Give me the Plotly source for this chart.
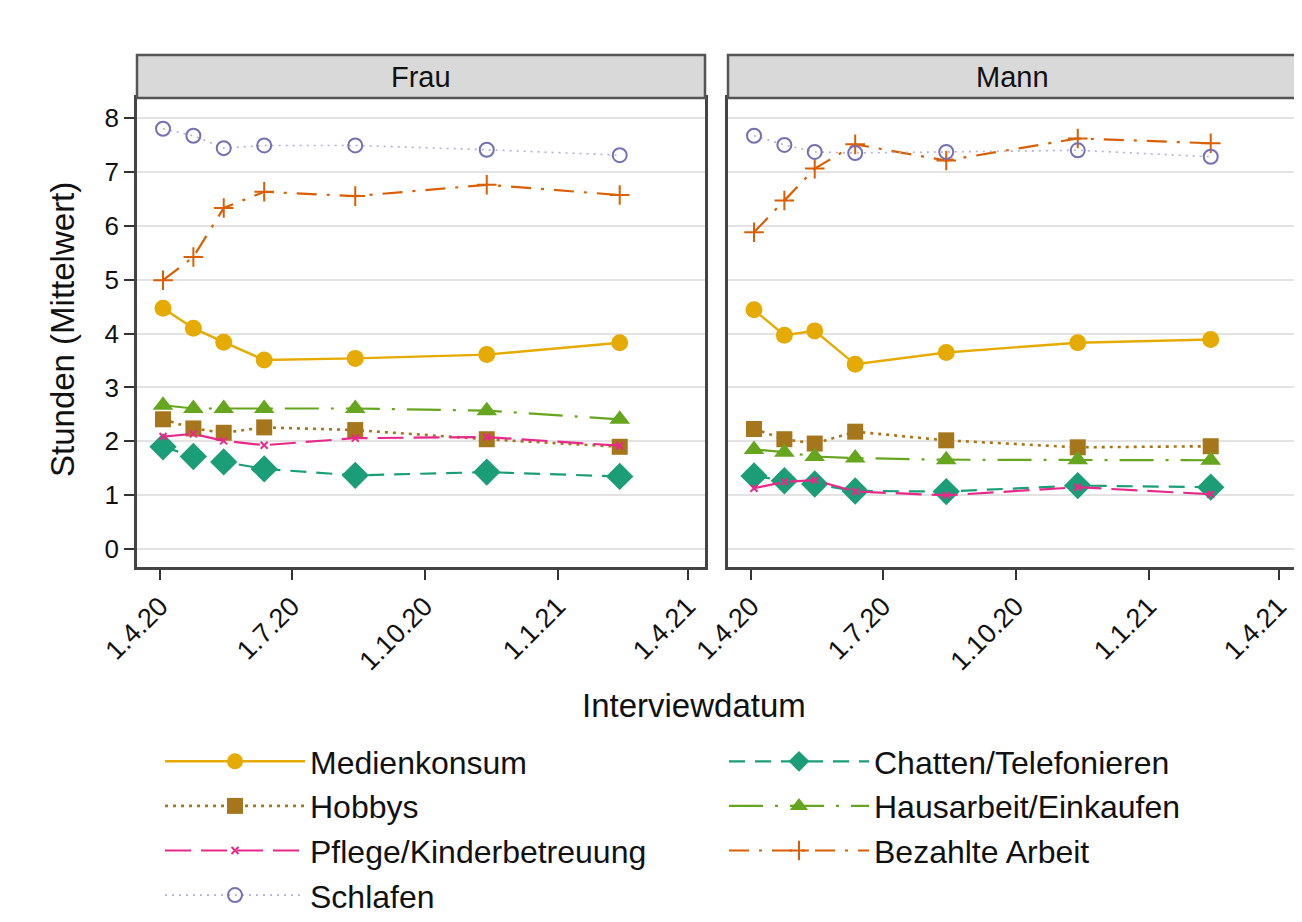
import plotly.graph_objects as go
from plotly.subplots import make_subplots

dates = ["2020-04-03", "2020-04-24", "2020-05-15", "2020-06-12",
         "2020-08-14", "2020-11-13", "2021-02-13"]
panels = ["Frau", "Mann"]

series_names = ["Medienkonsum", "Chatten/Telefonieren", "Hobbys",
                "Hausarbeit/Einkaufen", "Pflege/Kinderbetreuung",
                "Bezahlte Arbeit", "Schlafen"]

# Frau
medien_f = [4.47, 4.10, 3.84, 3.51, 3.54, 3.61, 3.83]
chatten_f = [1.90, 1.72, 1.62, 1.49, 1.37, 1.43, 1.35]
hobbys_f = [2.41, 2.24, 2.16, 2.26, 2.21, 2.04, 1.90]
haus_f = [2.67, 2.61, 2.61, 2.61, 2.61, 2.57, 2.41]
pflege_f = [2.09, 2.14, 2.01, 1.93, 2.06, 2.08, 1.92]
bezahlt_f = [4.99, 5.42, 6.33, 6.63, 6.55, 6.76, 6.57]
schlafen_f = [7.80, 7.67, 7.44, 7.49, 7.49, 7.41, 7.31]

# Mann
medien_m = [4.44, 3.97, 4.05, 3.43, 3.65, 3.83, 3.89]
chatten_m = [1.36, 1.27, 1.21, 1.08, 1.07, 1.18, 1.15]
hobbys_m = [2.23, 2.04, 1.96, 2.18, 2.02, 1.89, 1.91]
haus_m = [1.85, 1.80, 1.72, 1.69, 1.66, 1.66, 1.65]
pflege_m = [1.13, 1.25, 1.28, 1.07, 1.00, 1.15, 1.02]
bezahlt_m = [5.88, 6.47, 7.06, 7.51, 7.21, 7.62, 7.53]
schlafen_m = [7.67, 7.50, 7.37, 7.35, 7.37, 7.40, 7.28]

frau = [medien_f, chatten_f, hobbys_f, haus_f, pflege_f, bezahlt_f, schlafen_f]
mann = [medien_m, chatten_m, hobbys_m, haus_m, pflege_m, bezahlt_m, schlafen_m]

x_tickvals = ["2020-04-01", "2020-07-01", "2020-10-01", "2021-01-01", "2021-04-01"]
x_ticktext = ["1.4.20", "1.7.20", "1.10.20", "1.1.21", "1.4.21"]
y_ticks = [0, 1, 2, 3, 4, 5, 6, 7, 8]

styles = [
    dict(color="#E6AB02", dash="solid", lw=2.4, sym="circle", size=17, mline=0, lcolor="#E6AB02"),
    dict(color="#1B9E77", dash="16px,10px", lw=2.2, sym="diamond", size=21, mline=0, lcolor="#1B9E77"),
    dict(color="#A6761D", dash="3px,5px", lw=2.6, sym="square", size=16, mline=0, lcolor="#A6761D"),
    dict(color="#66A61E", dash="34px,12px,3px,12px", lw=2.2, sym="triangle-up", size=18, mline=0, lcolor="#66A61E"),
    dict(color="#E7298A", dash="26px,10px", lw=2.2, sym="x-thin-open", size=7, mline=2, lcolor="#E7298A"),
    dict(color="#D95F02", dash="20px,10px,3px,10px", lw=2.2, sym="cross-thin-open", size=14, mline=2, lcolor="#D95F02"),
    dict(color="#7570B3", dash="2px,5px", lw=1.6, sym="circle-open", size=14, mline=2, lcolor="#B3AFD8"),
]

fig = make_subplots(rows=1, cols=2, shared_yaxes=True, horizontal_spacing=0.02)

for ci, data in enumerate([frau, mann]):
    for si, (name, vals) in enumerate(zip(series_names, data)):
        st = styles[si]
        fig.add_trace(go.Scatter(
            x=dates, y=vals, name=name, mode="lines+markers",
            showlegend=(ci == 0),
            line=dict(color=st["lcolor"], width=st["lw"], dash=st["dash"]),
            marker=dict(symbol=st["sym"], size=st["size"], color=st["color"],
                        line=dict(width=st["mline"], color=st["color"])),
        ), row=1, col=ci + 1)

# the page body has an 8px margin: work in screen pixels, shift by OFF
OFF = 8
W, H = 1302 - OFF, 922 - OFF
ml = 137 - OFF
mt = 55 - OFF
plot_bottom = 567 - OFF
mb = H - plot_bottom
mr = W - (1296 - OFF)
ph = plot_bottom - mt
pw = W - ml - mr
ydom_top = (plot_bottom - (98 - OFF)) / ph
d1 = [0, (705 - 137) / pw]
d2 = [(728 - 137) / pw, 1]


def px_x(sx):
    return (sx - 137) / pw


def px_y(sy):
    return (567 - sy) / ph


FONT = "Liberation Sans, Arial, Helvetica, sans-serif"
xfont = dict(family=FONT, size=27, color="#111")
yfont = dict(family=FONT, size=26, color="#111")
for i, dom in enumerate([d1, d2]):
    fig.update_xaxes(domain=dom, range=["2020-03-16", "2021-04-13"],
                     tickvals=x_tickvals, ticktext=x_ticktext, tickangle=-45,
                     ticks="outside", ticklen=10, tickwidth=1.5, tickcolor="#333",
                     showline=True, linecolor="#444", linewidth=2.5, mirror=True,
                     showgrid=False, zeroline=False, tickfont=xfont,
                     automargin=False, row=1, col=i + 1)
    fig.update_yaxes(domain=[0, ydom_top], range=[-0.33, 8.37], tickvals=y_ticks,
                     showline=True, linecolor="#444", linewidth=2.5, mirror=True,
                     showgrid=True, gridcolor="#E3E3E3", gridwidth=2, zeroline=False,
                     tickfont=yfont, automargin=False, row=1, col=i + 1)
fig.update_yaxes(ticks="outside", ticklen=10, tickwidth=1.5, tickcolor="#333", row=1, col=1)
fig.update_yaxes(ticks="", showticklabels=False, row=1, col=2)

shapes = []
annotations = []
for dom, title in zip([d1, d2], panels):
    shapes.append(dict(type="rect", xref="paper", yref="paper",
                       x0=dom[0], x1=dom[1], y0=ydom_top, y1=1.0,
                       fillcolor="#D9D9D9", line=dict(color="#555", width=2.5)))
    annotations.append(dict(text=title, xref="paper", yref="paper",
                            x=(dom[0] + dom[1]) / 2, y=(ydom_top + 1) / 2,
                            showarrow=False, xanchor="center", yanchor="middle",
                            font=dict(family=FONT, size=29, color="#111")))

annotations.append(dict(text="Interviewdatum", xref="paper", yref="paper",
                        x=px_x(694), y=px_y(705),
                        showarrow=False, xanchor="center", yanchor="middle",
                        font=dict(family=FONT, size=33, color="#111")))
annotations.append(dict(text="Stunden (Mittelwert)", xref="paper", yref="paper",
                        x=px_x(62), y=px_y(330), textangle=-90,
                        showarrow=False, xanchor="center", yanchor="middle",
                        font=dict(family=FONT, size=33, color="#111")))

fig.update_layout(
    width=W, height=H,
    margin=dict(l=ml, r=mr, t=mt, b=mb, autoexpand=False),
    paper_bgcolor="white", plot_bgcolor="white",
    shapes=shapes, annotations=annotations,
    legend=dict(orientation="h", x=px_x(160), xanchor="left",
                y=px_y(734), yanchor="top",
                entrywidth=409, entrywidthmode="pixels", itemwidth=140,
                font=dict(family=FONT, size=32, color="#111"),
                bgcolor="rgba(0,0,0,0)"),
)

fig.write_html("out.html")
